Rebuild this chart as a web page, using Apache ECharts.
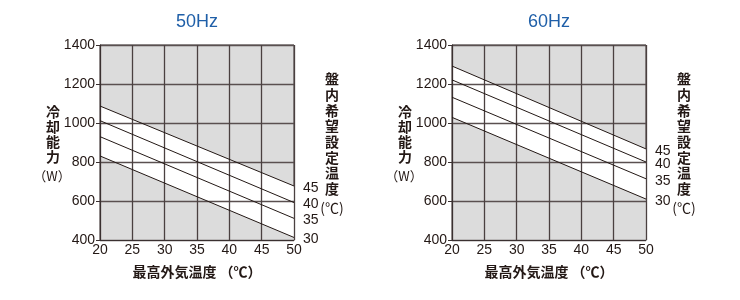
<!DOCTYPE html>
<html><head><meta charset="utf-8">
<script src="https://cdn.jsdelivr.net/npm/echarts@6/dist/echarts.min.js"></script>
<style>html,body{margin:0;padding:0;background:#fff}#c{width:740px;height:300px}</style>
</head><body><div id="c"></div>
<script>
// ---- data ----
const xEnds = [20, 50];
const xTicks = [20, 25, 30, 35, 40, 45, 50];
const yTicks = [400, 600, 800, 1000, 1200, 1400];
const tempLabels = ['45', '40', '35', '30'];
const line50_45 = [1087, 677];
const line50_40 = [1012, 592];
const line50_35 = [930, 511];
const line50_30 = [831, 413];
const line60_45 = [1292, 867];
const line60_40 = [1221, 800];
const line60_35 = [1132, 714];
const line60_30 = [1029, 610];
const titles = ['50Hz', '60Hz'];

const NUMFONT = "'Liberation Sans Narrow', 'Liberation Sans', Arial, sans-serif";
const CJK = "'Noto Sans CJK JP', sans-serif";
const GRAY = '#dcdcdc';
const chart = echarts.init(document.getElementById('c'));

const grids = [
  {left: 100, top: 45, width: 194, height: 195},
  {left: 452, top: 45, width: 194, height: 195}
];
const sets = [
  [line50_45, line50_40, line50_35, line50_30],
  [line60_45, line60_40, line60_35, line60_30]
];
const pts = arr => xEnds.map((x, i) => [x, arr[i]]);

const series = [];
sets.forEach((lines, g) => {
  series.push({type: 'line', xAxisIndex: g, yAxisIndex: g, data: pts(lines[0]), symbol: 'none', silent: true,
    lineStyle: {width: 0}, areaStyle: {color: '#ffffff', opacity: 1, origin: 'start'}, z: 1});
  series.push({type: 'line', xAxisIndex: g, yAxisIndex: g, data: pts(lines[3]), symbol: 'none', silent: true,
    lineStyle: {width: 0}, areaStyle: {color: GRAY, opacity: 1, origin: 'start'}, z: 1});
  lines.forEach((arr, k) => {
    series.push({type: 'line', xAxisIndex: g, yAxisIndex: g, data: pts(arr), symbol: 'none', z: 6,
      lineStyle: {color: '#231815', width: 1},
      endLabel: {show: true, formatter: tempLabels[k], color: '#231815', fontSize: 14,
        fontFamily: NUMFONT, offset: [1, 2]}});
  });
});

const xAxis = grids.map((_, g) => ({
  type: 'value', gridIndex: g, min: 20, max: 50, interval: 5, z: 5,
  axisLine: {show: true, lineStyle: {color: '#3a3030', width: 1}},
  axisTick: {show: false},
  axisLabel: {color: '#231815', fontSize: 14, fontFamily: NUMFONT, margin: 3, formatter: v => String(v)},
  splitLine: {show: true, lineStyle: {color: '#4a4040', width: 1.3}}
}));
const yAxis = grids.map((_, g) => ({
  type: 'value', gridIndex: g, min: 400, max: 1400, interval: 200, z: 5,
  axisLine: {show: true, lineStyle: {color: '#3a3030', width: 1}},
  axisTick: {show: true, length: 4, lineStyle: {color: '#3a3030'}},
  axisLabel: {color: '#231815', fontSize: 14, fontFamily: NUMFONT, margin: 5, formatter: v => String(v)},
  splitLine: {show: true, lineStyle: {color: '#5a5050', width: 1.3}}
}));

const graphic = [];
grids.forEach((gr, g) => {
  const cx = gr.left + gr.width / 2;
  graphic.push({type: 'text', x: cx, y: 22, style: {text: titles[g], fill: '#1f5fa8',
    font: "18px 'Liberation Sans', Arial, sans-serif", textAlign: 'center', textVerticalAlign: 'middle'}});
  graphic.push({type: 'text', x: cx, y: 272, style: {text: '最高外気温度 （℃）', fill: '#231815',
    font: "bold 14px " + CJK, textAlign: 'center', textVerticalAlign: 'middle'}});
  graphic.push({type: 'text', x: gr.left - 47, y: 104, style: {text: '冷\n却\n能\n力', fill: '#231815',
    font: "bold 14px " + CJK, lineHeight: 15, textAlign: 'center', textVerticalAlign: 'top'}});
  graphic.push({type: 'text', x: gr.left - 48, y: 176, style: {text: '（W）', fill: '#231815',
    font: "13px " + CJK, textAlign: 'center', textVerticalAlign: 'middle'}});
  graphic.push({type: 'text', x: gr.left + gr.width + 38, y: 71, style: {text: '盤\n内\n希\n望\n設\n定\n温\n度', fill: '#231815',
    font: "bold 14px " + CJK, lineHeight: 15.7, textAlign: 'center', textVerticalAlign: 'top'}});
  graphic.push({type: 'text', x: gr.left + gr.width + 38, y: 208, style: {text: '(℃)', fill: '#231815',
    font: "14px " + CJK, textAlign: 'center', textVerticalAlign: 'middle'}});
});

chart.setOption({
  animation: false,
  grid: grids.map(g => Object.assign({show: true, backgroundColor: GRAY, borderColor: '#3a3030', borderWidth: 1}, g)),
  xAxis, yAxis, series, graphic
});
</script></body></html>
